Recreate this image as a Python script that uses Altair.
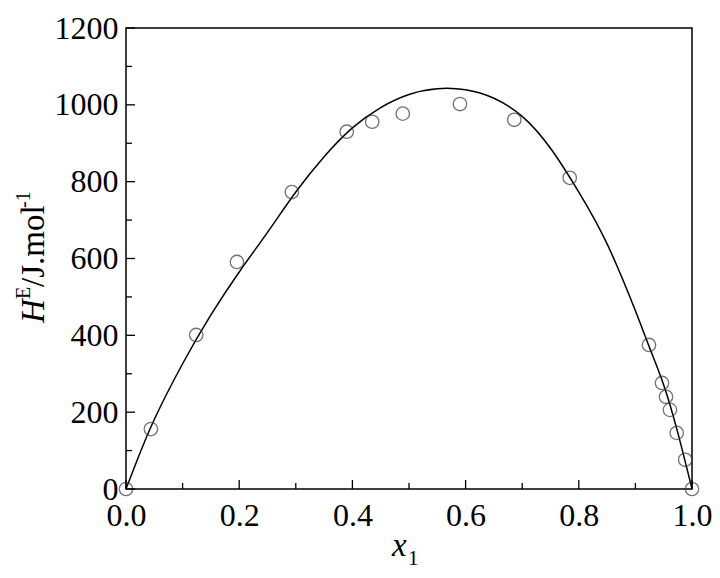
import altair as alt
import pandas as pd

# experimental points (x1, H^E)
x_exp = [0.0, 0.044, 0.124, 0.196, 0.293, 0.390, 0.435, 0.489, 0.590, 0.686,
         0.784, 0.924, 0.947, 0.954, 0.961, 0.973, 0.988, 1.0]
h_exp = [0, 156, 401, 591, 773, 930, 956, 977, 1002, 961,
         810, 375, 276, 240, 206, 146, 76, 0]

# fitted curve
x_fit = [0, 0.02, 0.05, 0.1, 0.15, 0.2, 0.25, 0.3, 0.35, 0.4, 0.45, 0.5,
         0.55, 0.6, 0.65, 0.7, 0.75, 0.8, 0.85, 0.9, 0.925, 0.95, 0.975, 1.0]
h_fit = [0, 76, 181, 326, 453, 565, 668, 773, 865, 940, 993, 1027,
         1042, 1039, 1017, 970, 887, 773, 638, 464, 368, 271, 146, 0]

x_major = [0.0, 0.2, 0.4, 0.6, 0.8, 1.0]
x_minor = [0.1, 0.3, 0.5, 0.7, 0.9]
y_major = [0, 200, 400, 600, 800, 1000, 1200]
y_minor = [100, 300, 500, 700, 900, 1100]

W, H = 566, 461
FONT = "Liberation Serif"

exp_df = pd.DataFrame({"x": x_exp, "h": h_exp})
fit_df = pd.DataFrame({"x": x_fit, "h": h_fit})

xs = alt.Scale(domain=[0, 1], nice=False, zero=False)
ys = alt.Scale(domain=[0, 1200], nice=False)

xaxis = alt.Axis(values=x_major, format=".1f", grid=False, ticks=False, domain=False,
                 labelFont=FONT, labelFontSize=32, labelColor="black",
                 labelPadding=11, labelOverlap=False, labelFlush=False, title=None)
yaxis = alt.Axis(values=y_major, format="d", grid=False, ticks=False, domain=False,
                 labelFont=FONT, labelFontSize=32, labelColor="black",
                 labelPadding=8, labelOverlap=False, labelFlush=False, title=None)

line = alt.Chart(fit_df).mark_line(color="black", strokeWidth=1.5, interpolate="natural").encode(
    x=alt.X("x:Q", scale=xs, axis=xaxis),
    y=alt.Y("h:Q", scale=ys, axis=yaxis),
)

pts = alt.Chart(exp_df).mark_point(shape="circle", filled=False, size=180,
                                   color="#3a3a3a", strokeWidth=1.3).encode(
    x=alt.X("x:Q", scale=xs),
    y=alt.Y("h:Q", scale=ys),
)

def xticks(vals, length):
    return alt.Chart(pd.DataFrame({"t": vals})).mark_rule(color="black", strokeWidth=1.3).encode(
        x=alt.X("t:Q", scale=xs), y=alt.value(H), y2=alt.value(H - length))

def yticks(vals, length):
    return alt.Chart(pd.DataFrame({"t": vals})).mark_rule(color="black", strokeWidth=1.3).encode(
        y=alt.Y("t:Q", scale=ys), x=alt.value(0), x2=alt.value(length))

one = pd.DataFrame({"a": [0]})

def label(text, x, y, size, italic=False, angle=0, align="left"):
    kw = dict(text=text, font=FONT, fontSize=size, color="black", align=align,
              baseline="alphabetic", angle=angle)
    if italic:
        kw["fontStyle"] = "italic"
    return alt.Chart(one).mark_text(**kw).encode(x=alt.value(x), y=alt.value(y))

titles = [
    # x title: x_1
    label("x", 266, 528, 33, italic=True),
    label("1", 282, 537, 21),
    # y title: H^E/J.mol^-1 (rotated)
    label("H", -82, 295, 33, italic=True, angle=270),
    label("E", -96, 271, 20, angle=270),
    label("/J.mol", -82, 259, 33, angle=270),
    label("-1", -96, 180, 20, angle=270),
]

chart = alt.layer(
    line, pts,
    xticks(x_major, 9), xticks(x_minor, 6),
    yticks(y_major, 9), yticks(y_minor, 6),
    *titles,
).properties(
    width=W, height=H,
    autosize=alt.AutoSizeParams(type="none"),
    padding={"left": 118, "top": 20, "right": 20, "bottom": 81},
).configure_view(stroke="black", strokeWidth=1.5)

chart.save("out.html", embed_options={"renderer": "svg", "actions": False})
